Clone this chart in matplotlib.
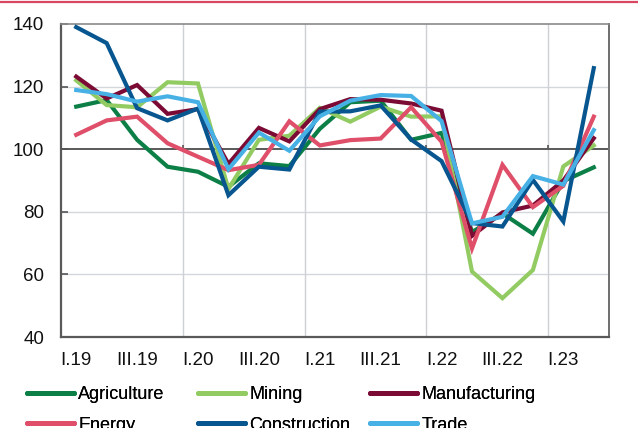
import matplotlib
matplotlib.use("Agg")
import matplotlib.pyplot as plt
from matplotlib.lines import Line2D

plt.rcParams['font.family'] = ['Liberation Sans', 'DejaVu Sans']

# Quarters from I.19 to II.23
quarters = ["I.19", "II.19", "III.19", "IV.19",
            "I.20", "II.20", "III.20", "IV.20",
            "I.21", "II.21", "III.21", "IV.21",
            "I.22", "II.22", "III.22", "IV.22",
            "I.23", "II.23"]

agriculture = [113.6, 115.7, 103.0, 94.4, 92.8, 88.0, 95.5, 94.6, 106.5, 115.0,
               115.5, 103.0, 105.2, 73.5, 79.5, 73.0, 89.8, 94.2]
mining = [122.0, 114.1, 113.4, 121.4, 121.0, 87.3, 103.0, 104.3, 113.2, 108.8,
          113.6, 110.4, 110.5, 60.9, 52.4, 61.4, 94.5, 101.2]
manufacturing = [123.2, 116.2, 120.5, 111.3, 112.8, 95.3, 106.8, 102.5, 112.8, 116.0,
                 115.8, 114.6, 112.3, 72.3, 79.8, 82.0, 90.0, 103.5]
energy = [104.6, 109.2, 110.4, 101.9, 97.6, 93.3, 95.0, 108.9, 101.2, 102.9,
          103.4, 113.4, 102.4, 68.3, 95.0, 81.5, 88.3, 110.4]
construction = [139.0, 133.9, 113.1, 109.2, 113.0, 85.3, 94.4, 93.5, 112.0, 112.1,
                114.0, 103.1, 96.2, 76.4, 75.3, 90.2, 76.9, 125.9]
trade = [118.9, 117.6, 115.2, 116.9, 115.0, 93.6, 105.3, 99.5, 110.5, 115.5,
         117.3, 117.0, 109.0, 76.3, 78.4, 91.4, 88.7, 106.1]

series = [
    ("Agriculture", agriculture, "#0b7f46"),
    ("Mining", mining, "#93cb63"),
    ("Manufacturing", manufacturing, "#7b0b34"),
    ("Energy", energy, "#df4f69"),
    ("Construction", construction, "#07568f"),
    ("Trade", trade, "#47b1e6"),
]

yticks = [40, 60, 80, 100, 120, 140]

fig = plt.figure(figsize=(6.38, 4.28), dpi=100)
ax = fig.add_axes([61 / 638, 1 - 337 / 428, 548 / 638, 313 / 428])

x = list(range(len(quarters)))

# grid
for v in yticks:
    if v not in (40, 100, 140):
        ax.axhline(v, color="#d3d7dc", lw=1.0, zorder=0)
for b in range(4, len(quarters), 4):
    ax.axvline(b - 0.5, color="#cdd1d5", lw=1.0, zorder=0)
    ax.vlines(b - 0.5, 100, 101.4, color="#555555", lw=1.2, zorder=1)
ax.axhline(100, color="#595959", lw=1.4, zorder=1)

handles = {}
for name, vals, col in series:
    ax.plot(x, vals, color=col, lw=3.0, solid_joinstyle="miter", zorder=3)
    handles[name] = Line2D([], [], color=col, lw=3.6, solid_capstyle="round")

ax.set_xlim(-0.5, len(quarters) - 0.5)
ax.set_ylim(40, 140)
ax.set_yticks(yticks)
ax.set_yticklabels([str(v) for v in yticks])
ax.set_xticks(x[::2])
ax.set_xticklabels(quarters[::2])

ax.tick_params(axis="y", direction="in", length=5, width=1.2, color="#555555",
               labelsize=13.5, pad=12, labelcolor="#111111")
ax.tick_params(axis="x", length=0, labelsize=13.5, pad=11, labelcolor="#111111")

for side in ("left", "bottom"):
    ax.spines[side].set_color("#595959")
    ax.spines[side].set_linewidth(1.6)
ax.spines["right"].set_color("#6e6e6e")
ax.spines["right"].set_linewidth(1.4)
ax.spines["top"].set_color("#8a8a8a")
ax.spines["top"].set_linewidth(1.2)

# legend: three columns of two entries each
columns = [("Agriculture", "Energy"), ("Mining", "Construction"), ("Manufacturing", "Trade")]
col_x = [27, 198, 370]
for names, cx in zip(columns, col_x):
    leg = fig.legend([handles[n] for n in names], list(names),
                     loc="upper left", bbox_to_anchor=(cx / 638, 1 - 386 / 428),
                     frameon=False, fontsize=13, handlelength=2.6,
                     handletextpad=0.25, borderpad=0, borderaxespad=0,
                     labelspacing=0.75)
    fig.add_artist(leg)

# red rule across the top
fig.add_artist(Line2D([0, 1], [1 - 2 / 428, 1 - 2 / 428], transform=fig.transFigure,
                      color="#d8465f", lw=1.6))

fig.savefig("out.png", dpi=100)
